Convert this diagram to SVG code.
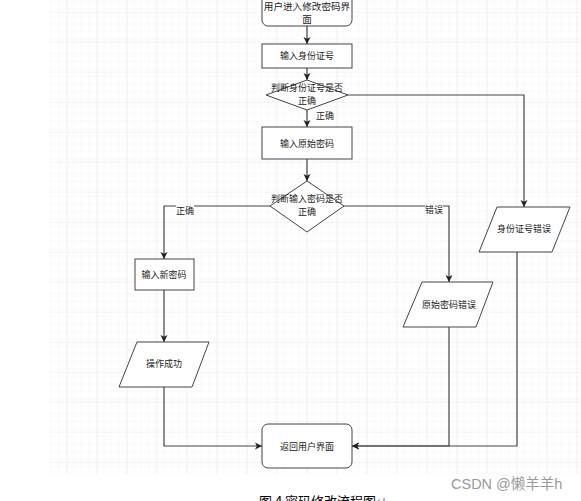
<svg xmlns="http://www.w3.org/2000/svg" width="581" height="501" viewBox="0 0 581 501">
<defs>
<pattern id="minor" x="66.7" y="11.7" width="7.5" height="7.5" patternUnits="userSpaceOnUse">
<path d="M0,0 H7.5 M0,0 V7.5" fill="none" stroke="#f3f3f3" stroke-width="1"/>
</pattern>
<pattern id="major" x="66.7" y="11.7" width="30" height="30" patternUnits="userSpaceOnUse">
<rect width="30" height="30" fill="url(#minor)"/>
<path d="M0,0 H30 M0,0 V30" fill="none" stroke="#e6e6e6" stroke-width="1"/>
</pattern>
<marker id="arr" markerWidth="8" markerHeight="8" refX="7" refY="4" orient="auto" markerUnits="userSpaceOnUse">
<path d="M0,0.5 L7,4 L0,7.5 L1.8,4 Z" fill="#222"/>
</marker>
</defs>
<style>
.shape{fill:#fff;stroke:#444;stroke-width:1}
.conn{fill:none;stroke:#444;stroke-width:1.2}
.t{font-family:"Noto Sans CJK SC","Liberation Sans",sans-serif;font-size:9px;fill:#222;text-anchor:middle}
.lbl{font-family:"Noto Sans CJK SC","Liberation Sans",sans-serif;font-size:9px;fill:#222;text-anchor:middle}
</style>
<rect x="0" y="0" width="581" height="501" fill="#fff"/>
<rect x="49" y="0" width="532" height="474" fill="url(#major)"/>

<g id="connectors">
<path class="conn" d="M307,26 V44" marker-end="url(#arr)"/>
<path class="conn" d="M307,68 V80" marker-end="url(#arr)"/>
<path class="conn" d="M307,110 V127" marker-end="url(#arr)"/>
<path class="conn" d="M348,95 H524 V207" marker-end="url(#arr)"/>
<path class="conn" d="M307,159 V181" marker-end="url(#arr)"/>
<path class="conn" d="M270,206 H164 V259" marker-end="url(#arr)"/>
<path class="conn" d="M344,206 H449 V282" marker-end="url(#arr)"/>
<path class="conn" d="M164,290 V342" marker-end="url(#arr)"/>
<path class="conn" d="M164,387 V446 H262" marker-end="url(#arr)"/>
<path class="conn" d="M449,327 V446 H352" marker-end="url(#arr)"/>
<path class="conn" d="M517,252 V446 H352" marker-end="url(#arr)"/>
<rect x="316" y="110" width="18" height="11" fill="#fff"/>
<text class="lbl" x="325" y="119">正确</text>
<rect x="176" y="205" width="18" height="11" fill="#fff"/>
<text class="lbl" x="185" y="214">正确</text>
<rect x="425" y="204" width="18" height="11" fill="#fff"/>
<text class="lbl" x="434" y="213">错误</text>
</g>

<g id="start">
<rect class="shape" x="262" y="-12" width="90" height="38" rx="6"/>
<text class="t" x="307" y="10" style="font-size:9.6px">用户进入修改密码界</text>
<text class="t" x="307" y="22.5" style="font-size:9.6px">面</text>
</g>
<g id="inputId">
<rect class="shape" x="262" y="44" width="90" height="24"/>
<text class="t" x="307" y="59">输入身份证号</text>
</g>
<g id="checkId">
<path class="shape" d="M307,80 L348,95 L307,110 L266,95 Z"/>
<text class="t" x="307" y="91">判断身份证号是否</text>
<text class="t" x="307" y="103.5">正确</text>
</g>
<g id="inputOld">
<rect class="shape" x="262" y="127" width="90" height="32"/>
<text class="t" x="307" y="147">输入原始密码</text>
</g>
<g id="checkPwd">
<path class="shape" d="M307,181 L344,206 L307,232 L270,206 Z"/>
<text class="t" x="307" y="202">判断输入密码是否</text>
<text class="t" x="307" y="214.5">正确</text>
</g>
<g id="inputNew">
<rect class="shape" x="135" y="259" width="59" height="31"/>
<text class="t" x="164" y="278">输入新密码</text>
</g>
<g id="success">
<path class="shape" d="M137,342 L209,342 L192,387 L119,387 Z"/>
<text class="t" x="164" y="367">操作成功</text>
</g>
<g id="pwdError">
<path class="shape" d="M422,282 L493,282 L476,327 L403,327 Z"/>
<text class="t" x="449" y="308">原始密码错误</text>
</g>
<g id="idError">
<path class="shape" d="M497,207 L570,207 L552,252 L479,252 Z"/>
<text class="t" x="524" y="232">身份证号错误</text>
</g>
<g id="back">
<rect class="shape" x="262" y="424" width="90" height="44" rx="6"/>
<text class="t" x="307" y="450">返回用户界面</text>
</g>

<text x="451" y="489" style="font-family:'Liberation Sans','Noto Sans CJK SC',sans-serif;font-size:14.5px;fill:#9a9a9a">CSDN @懒羊羊h</text>
<text x="259" y="506" style="font-family:'Noto Sans CJK SC','Liberation Sans',sans-serif;font-size:13px;fill:#000">图 4 密码修改流程图<tspan fill="#888">↵</tspan></text>
</svg>
